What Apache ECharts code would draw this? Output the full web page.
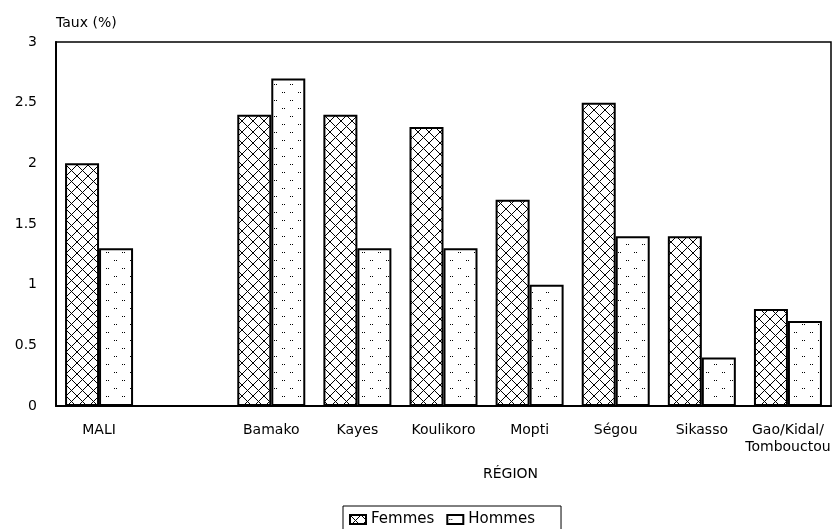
<!DOCTYPE html>
<html>
<head>
<meta charset="utf-8">
<script src="https://cdn.jsdelivr.net/npm/echarts@6/dist/echarts.min.js"></script>
<style>html,body{margin:0;padding:0;background:#fff}#c{width:837px;height:529px}</style>
</head>
<body>
<div id="c"></div>
<script>
const categories = ['MALI', '', 'Bamako', 'Kayes', 'Koulikoro', 'Mopti', 'Ségou', 'Sikasso', 'Gao/Kidal/\nTombouctou'];
const femmes = [2.0, null, 2.4, 2.4, 2.3, 1.7, 2.5, 1.4, 0.8];
const hommes = [1.3, null, 2.7, 1.3, 1.3, 1.0, 1.4, 0.4, 0.7];
const yTicks = [0, 0.5, 1, 1.5, 2, 2.5, 3];

function makeCross() {
  const c = document.createElement('canvas');
  c.width = 11; c.height = 11;
  const g = c.getContext('2d');
  g.fillStyle = '#fff'; g.fillRect(0, 0, 11, 11);
  g.strokeStyle = '#000'; g.lineWidth = 1;
  g.beginPath();
  g.moveTo(0, 0); g.lineTo(11, 11);
  g.moveTo(11, 0); g.lineTo(0, 11);
  g.stroke();
  return c;
}
function makeDots() {
  const c = document.createElement('canvas');
  c.width = 16; c.height = 16;
  const g = c.getContext('2d');
  g.fillStyle = '#fff'; g.fillRect(0, 0, 16, 16);
  g.fillStyle = '#000';
  g.fillRect(2, 4, 1, 1); g.fillRect(4, 4, 1, 1);
  g.fillRect(10, 12, 1, 1); g.fillRect(12, 12, 1, 1);
  return c;
}
const crossPat = { image: makeCross(), repeat: 'repeat' };
const dotPat = { image: makeDots(), repeat: 'repeat' };

const FONT = 'DejaVu Sans';
const chart = echarts.init(document.getElementById('c'), null, { renderer: 'canvas' });
chart.setOption({
  animation: false,
  backgroundColor: '#fff',
  textStyle: { fontFamily: FONT, color: '#000' },
  grid: {
    left: 56, right: 6, top: 42, bottom: 123,
    show: true, borderColor: '#000', borderWidth: 1.5, backgroundColor: 'transparent'
  },
  legend: {
    left: 343, top: 506,
    padding: [6, 26, 14, 6],
    borderColor: '#000', borderWidth: 1,
    itemWidth: 16, itemHeight: 9, itemGap: 12,
    icon: 'rect',
    textStyle: { fontFamily: FONT, fontSize: 15, color: '#000' },
    data: ['Femmes', 'Hommes']
  },
  xAxis: {
    type: 'category',
    data: categories,
    axisLine: { show: true, lineStyle: { color: '#000', width: 2 } },
    axisTick: { show: false },
    axisLabel: { interval: 0, color: '#000', fontFamily: FONT, fontSize: 14, margin: 16, lineHeight: 17 },
    splitLine: { show: false }
  },
  yAxis: {
    type: 'value',
    min: 0, max: 3, interval: 0.5,
    name: 'Taux (%)',
    nameLocation: 'end',
    nameGap: 12,
    nameTextStyle: { fontFamily: FONT, fontSize: 14, color: '#000', align: 'left', verticalAlign: 'bottom' },
    axisLine: { show: true, lineStyle: { color: '#000', width: 2 } },
    axisTick: { show: false },
    axisLabel: { color: '#000', fontFamily: FONT, fontSize: 14, margin: 19,
      formatter: v => (yTicks.indexOf(v) >= 0 ? String(v) : '') },
    splitLine: { show: false }
  },
  graphic: [{
    type: 'text', left: 483, top: 467,
    style: { text: 'RÉGION', font: '14px "DejaVu Sans"', fill: '#000' }
  }],
  series: [
    {
      name: 'Femmes', type: 'bar', data: femmes,
      barWidth: 34, barGap: '0%',
      itemStyle: { color: crossPat, borderColor: '#000', borderWidth: 2 }
    },
    {
      name: 'Hommes', type: 'bar', data: hommes,
      barWidth: 34, barGap: '0%',
      itemStyle: { color: dotPat, borderColor: '#000', borderWidth: 2 }
    }
  ]
});
</script>
</body>
</html>
